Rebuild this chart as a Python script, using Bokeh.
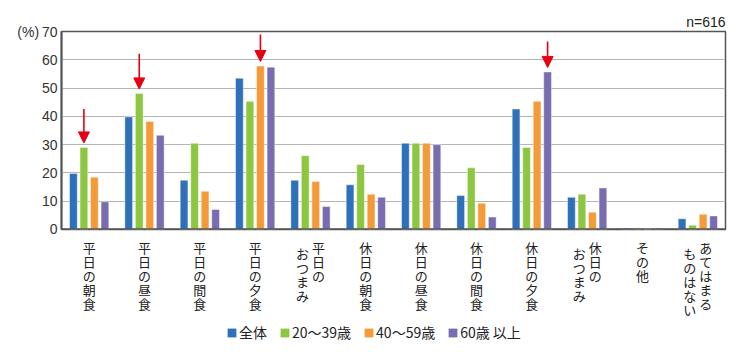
from bokeh.plotting import figure
from bokeh.models import (ColumnDataSource, Range1d, Arrow, NormalHead,
                          Legend, LegendItem, FixedTicker, Title)
from bokeh.core.properties import value
from bokeh.layouts import column
from bokeh.embed import file_html
from bokeh.resources import INLINE

categories = [["平日の朝食"], ["平日の昼食"], ["平日の間食"], ["平日の夕食"],
              ["平日の", "おつまみ"], ["休日の朝食"], ["休日の昼食"], ["休日の間食"],
              ["休日の夕食"], ["休日の", "おつまみ"], ["その他"], ["あてはまる", "ものはない"]]
series_names = ["全体", "20〜39歳", "40〜59歳", "60歳 以上"]
all_vals = [19.8, 39.8, 17.4, 53.5, 17.4, 15.8, 30.5, 12.0, 42.6, 11.4, 0.5, 3.8]
age20_vals = [29.0, 48.1, 30.5, 45.3, 26.1, 23.0, 30.5, 21.8, 29.0, 12.5, 0.5, 1.5]
age40_vals = [18.5, 38.2, 13.5, 57.8, 17.0, 12.5, 30.5, 9.3, 45.3, 6.1, 0.2, 5.4]
age60_vals = [9.8, 33.3, 7.1, 57.4, 8.1, 11.4, 30.0, 4.4, 55.7, 14.7, 0.5, 4.8]
series_vals = [all_vals, age20_vals, age40_vals, age60_vals]
colors = ["#2e70ba", "#8dc641", "#f49b37", "#7a6cb1"]
y_ticks = [0, 10, 20, 30, 40, 50, 60, 70]
n_label = "n=616"
# arrows: (category index, series index, arrow length in %)
arrow_marks = [(0, 1, 12.0), (1, 1, 12.4), (3, 2, 9.5), (8, 3, 9.2)]

FONT = "Noto Sans CJK JP"
NUMFONT = "Liberation Sans"
n = len(categories)
bar_w = 0.14
step = 0.19
offsets = [(k - 1.5) * step for k in range(4)]

TOP_H = 236
p = figure(width=744, height=TOP_H, output_backend="svg", toolbar_location=None,
           x_range=Range1d(0, n), y_range=Range1d(0, 70),
           min_border_left=61, min_border_right=19, min_border_top=31,
           min_border_bottom=7)
p.background_fill_color = "white"
p.border_fill_color = "white"
p.outline_line_color = "#555555"
p.outline_line_width = 1.5

t = Title(text=n_label, align="right", text_font=NUMFONT, text_font_size="14px",
          text_font_style="normal", text_color="#222222", standoff=3)
p.add_layout(t, "above")

p.xaxis.visible = False
p.xgrid.visible = False
p.ygrid.grid_line_color = "#b5b5b5"
p.ygrid.grid_line_width = 1.2
p.yaxis.ticker = FixedTicker(ticks=y_ticks)
p.yaxis.major_label_overrides = {70: "(%)\u200970"}
p.yaxis.major_tick_line_color = None
p.yaxis.minor_tick_line_color = None
p.yaxis.major_tick_out = 0
p.yaxis.major_tick_in = 0
p.yaxis.axis_line_color = "#555555"
p.yaxis.axis_line_width = 2
p.yaxis.major_label_text_font = NUMFONT
p.yaxis.major_label_text_font_size = "14px"
p.yaxis.major_label_text_color = "#333333"
p.yaxis.major_label_standoff = 4

for k in range(4):
    xs = [i + 0.5 + offsets[k] for i in range(n)]
    src = ColumnDataSource(dict(x=xs, top=series_vals[k]))
    p.vbar(x="x", top="top", width=bar_w, bottom=0, source=src,
           fill_color=colors[k], line_color="white", line_alpha=0.45, line_width=1)

# bottom axis line
p.segment(x0=[0], y0=[0], x1=[n], y1=[0], line_color="#555555", line_width=2.5)

# arrows
for (ci, si, ln) in arrow_marks:
    xv = ci + 0.5 + offsets[si]
    tip = series_vals[si][ci] + 1.6
    p.add_layout(Arrow(x_start=xv, y_start=tip + ln, x_end=xv, y_end=tip,
                       line_color="#e60012", line_width=1.6,
                       end=NormalHead(size=11, fill_color="#e60012",
                                      line_color="#e60012")))

# ---- lower panel: category labels + legend (y in page pixels) ----
p2 = figure(width=744, height=360 - TOP_H, output_backend="svg", toolbar_location=None,
            x_range=p.x_range, y_range=Range1d(360, TOP_H),
            min_border_left=61, min_border_right=19, min_border_top=0,
            min_border_bottom=0)
p2.axis.visible = False
p2.grid.visible = False
p2.outline_line_color = None
p2.background_fill_color = "white"
p2.border_fill_color = "white"

LABEL_TOP = 237
lx, ly, ltxt, lxo = [], [], [], []
for i, cols in enumerate(categories):
    if len(cols) == 1:
        specs = [(0, 0)]
    else:
        specs = [(8, 0), (-8, 6)]
    for txt, (xo, dy) in zip(cols, specs):
        lx.append(i + 0.5)
        ly.append(LABEL_TOP + dy)
        ltxt.append("\n".join(txt))
        lxo.append(xo)
lsrc = ColumnDataSource(dict(x=lx, y=ly, text=ltxt, xo=lxo))
p2.text(x="x", y="y", text="text", x_offset="xo", source=lsrc,
        text_font=value(FONT), text_font_size="13px", text_color="#222222",
        text_align="center", text_baseline="top", text_line_height=0.74)

items = []
for k in range(4):
    r = p2.vbar(x=[-10], top=[1], width=0.1, fill_color=colors[k], line_color=None)
    items.append(LegendItem(label=series_names[k], renderers=[r]))
legend = Legend(items=items, orientation="horizontal", location=(165, 18),
                glyph_width=11, glyph_height=11, label_standoff=2, spacing=12,
                padding=0, margin=0, border_line_color=None,
                background_fill_alpha=0,
                label_text_font=FONT, label_text_font_size="14px",
                label_text_color="#222222")
p2.add_layout(legend, "center")

layout = column(p, p2, spacing=0)
open("out.html", "w").write(file_html(layout, INLINE))
